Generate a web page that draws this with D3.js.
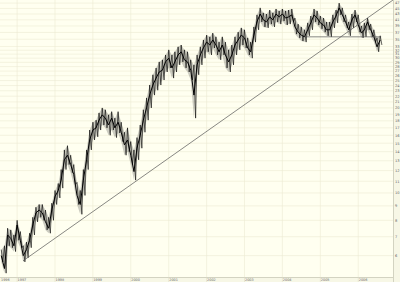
<!DOCTYPE html>
<html>
<head>
<meta charset="utf-8">
<script src="https://cdn.jsdelivr.net/npm/d3@7"></script>
<style>
  body { margin: 0; background: #fffff2; }
  svg { display: block; font-family: "DejaVu Sans", sans-serif; }
</style>
</head>
<body>
<div id="chart"></div>
<script>
// monthly bars, first one is Aug 1996
var firstMonth = "1996-08-01";
var closes = [6.0,5.4,7.1,6.9,6.5,7.7,6.8,6.0,6.3,6.8,7.7,8.5,8.7,8.5,7.9,7.5,8.7,9.7,10.2,11.1,
  13.1,13.6,12.6,11.6,9.8,9.1,11.1,13.1,15.4,16.7,17.0,18.1,18.9,18.4,17.4,18.4,17.0,17.8,16.4,14.8,
  15.4,13.6,11.9,14.4,16.0,18.1,20.0,22.2,24.1,25.5,26.8,27.2,29.1,30.0,27.7,29.1,30.8,31.6,29.6,29.1,
  27.2,22.2,28.4,30.8,32.6,34.2,33.4,34.8,33.4,31.6,33.4,30.8,29.1,30.8,33.4,34.8,36.2,35.4,32.6,31.6,
  36.2,40.3,43.0,41.0,40.3,42.0,41.0,43.0,42.0,43.0,41.6,42.0,42.7,38.7,37.1,36.2,35.7,37.8,40.0,42.7,
  41.6,40.0,39.3,37.8,37.8,40.3,42.3,45.2,42.7,40.3,37.8,41.0,42.7,39.3,36.8,37.8,40.3,37.8,35.7,32.9,34.8];
var highs = [6.3,6.5,7.5,7.4,7.1,8.0,7.3,6.5,6.7,7.2,8.2,8.9,9.1,9.1,8.7,8.2,9.2,10.2,10.8,12.1,
  14.2,14.7,13.6,12.6,10.9,10.2,12.1,14.2,16.7,17.8,18.1,19.2,20.0,19.7,18.9,19.4,18.4,19.4,17.8,16.4,
  17.0,15.2,14.2,15.7,17.4,19.7,21.7,24.1,26.2,27.7,29.1,29.6,30.8,32.1,30.8,31.6,32.9,33.4,32.1,31.6,
  29.6,28.4,30.8,32.9,34.8,36.2,35.7,36.8,35.7,34.2,35.7,34.2,32.1,33.4,35.7,37.1,38.4,37.8,35.4,34.2,
  38.7,42.7,45.2,43.4,43.0,44.4,43.4,44.8,44.1,44.8,44.1,44.4,44.8,41.6,39.6,38.7,37.8,40.0,42.3,44.8,
  44.1,42.3,41.6,40.3,40.3,42.7,44.4,47.0,45.2,42.7,40.3,43.0,44.4,42.7,39.0,40.0,41.6,39.6,37.8,35.4,36.0];
var lows = [5.7,5.2,6.5,6.4,6.2,6.8,6.4,5.7,5.9,6.4,7.1,7.9,8.2,8.0,7.4,7.2,8.0,9.1,9.6,10.4,
  12.1,12.6,11.8,10.7,9.1,8.4,9.8,12.1,14.2,15.4,15.8,16.7,17.4,17.0,16.0,16.7,15.7,16.3,15.2,13.6,
  14.0,12.6,11.1,13.1,14.4,16.4,18.1,20.0,22.2,23.1,24.1,25.1,26.8,27.7,25.5,26.8,28.4,29.1,27.7,26.8,
  25.1,18.4,26.2,28.4,30.0,31.6,30.8,32.6,30.8,29.6,30.8,27.7,26.8,28.4,30.8,32.1,33.4,32.6,30.8,30.0,
  34.2,37.8,40.3,38.7,38.4,39.6,38.7,40.3,39.6,40.6,39.3,39.6,40.3,36.5,35.4,34.5,34.2,36.0,37.8,40.3,
  39.3,38.1,37.1,36.0,35.7,38.4,40.0,42.7,40.3,38.4,36.0,38.4,40.3,37.1,35.4,35.7,37.8,35.7,34.2,31.6,33.4];

var priceTicks = [6,7,8,9,10,11,12,13,14,15,16,17,18,19,20,21,22,23,24,25,26,27,28,29,30,31,32,33,35,37,39,41,43,45,47];
var years = [1997,1998,1999,2000,2001,2002,2003,2004,2005,2006];

// long rising trendline and the flat support line
var trendDates = ["1997-02-27","2006-12-02"], trendValues = [5.75, 48.2];
var supportDates = ["2004-08-15","2006-08-10"], supportValue = 35.7;

var W = 400, H = 282, plotR = 393, plotB = 277;
var parse = d3.utcParse("%Y-%m-%d");

var months = closes.map((c, i) => d3.utcMonth.offset(parse(firstMonth), i));
var bars = months.map((d, i) => ({date: d, hi: highs[i], lo: lows[i], close: closes[i]}));

var x = d3.scaleUtc()
  .domain([parse("1996-07-20"), parse("2006-12-02")])
  .range([0, plotR]);
var y = d3.scaleLog()
  .domain([5.04, 48.2])
  .range([plotB, 0]);

var svg = d3.select("#chart").append("svg")
  .attr("width", W)
  .attr("height", H);

svg.append("rect").attr("width", W).attr("height", H).attr("fill", "#f7f7e6");
svg.append("rect").attr("width", plotR).attr("height", plotB).attr("fill", "#fffff0");

// grid
var grid = svg.append("g").attr("stroke", "#ecebd3").attr("stroke-width", 0.6);
grid.selectAll("line.h").data(priceTicks).enter().append("line")
  .attr("x1", 0).attr("x2", plotR)
  .attr("y1", d => y(d)).attr("y2", d => y(d));
grid.selectAll("line.v").data(years).enter().append("line")
  .attr("x1", d => x(new Date(Date.UTC(d, 0, 1)))).attr("x2", d => x(new Date(Date.UTC(d, 0, 1))))
  .attr("y1", 0).attr("y2", plotB);

// axis frames
svg.append("line").attr("x1", plotR + 0.5).attr("x2", plotR + 0.5).attr("y1", 0).attr("y2", H)
  .attr("stroke", "#c9c9b8").attr("stroke-width", 0.8);
svg.append("line").attr("x1", 0).attr("x2", plotR).attr("y1", plotB + 0.5).attr("y2", plotB + 0.5)
  .attr("stroke", "#c9c9b8").attr("stroke-width", 0.8);

// price labels on the right
svg.append("g").selectAll("text").data(priceTicks).enter().append("text")
  .attr("x", plotR + 2)
  .attr("y", d => y(d) + 1.3)
  .attr("font-size", 3.6)
  .attr("fill", "#666")
  .text(d => d);

// year labels along the bottom
var yearLab = [1996].concat(years);
svg.append("g").selectAll("text").data(yearLab).enter().append("text")
  .attr("x", d => d === 1996 ? 1 : x(new Date(Date.UTC(d, 0, 1))) + 0.5)
  .attr("y", H - 1.2)
  .attr("font-size", 3.4)
  .attr("fill", "#666")
  .text(d => d);
svg.append("g").selectAll("line").data(years).enter().append("line")
  .attr("x1", d => x(new Date(Date.UTC(d, 0, 1)))).attr("x2", d => x(new Date(Date.UTC(d, 0, 1))))
  .attr("y1", plotB).attr("y2", H)
  .attr("stroke", "#d8d8c4").attr("stroke-width", 0.5);

// price band: light fill between lows and highs, then zigzag strokes for the bar texture
var half = 16 * 864e5;
svg.append("path")
  .datum(bars)
  .attr("fill", "#333")
  .attr("fill-opacity", 0.25)
  .attr("d", d3.area().x(d => x(d.date)).y0(d => y(d.lo)).y1(d => y(d.hi)));

var zig = [];
bars.forEach(b => {
  zig.push({date: b.date, v: b.hi});
  zig.push({date: new Date(+b.date + half), v: b.lo});
});
svg.append("path")
  .datum(zig)
  .attr("fill", "none")
  .attr("stroke", "#000")
  .attr("stroke-width", 0.6)
  .attr("d", d3.line().x(d => x(d.date)).y(d => y(d.v)));

svg.append("path")
  .datum(bars)
  .attr("fill", "none")
  .attr("stroke", "#000")
  .attr("stroke-width", 1)
  .attr("d", d3.line().x(d => x(d.date)).y(d => y(d.close)));

// trendlines
svg.append("line")
  .attr("x1", x(parse(trendDates[0]))).attr("y1", y(trendValues[0]))
  .attr("x2", x(parse(trendDates[1]))).attr("y2", y(trendValues[1]))
  .attr("stroke", "#555").attr("stroke-width", 0.7);
svg.append("line")
  .attr("x1", x(parse(supportDates[0]))).attr("y1", y(supportValue))
  .attr("x2", x(parse(supportDates[1]))).attr("y2", y(supportValue))
  .attr("stroke", "#555").attr("stroke-width", 0.7);
</script>
</body>
</html>
